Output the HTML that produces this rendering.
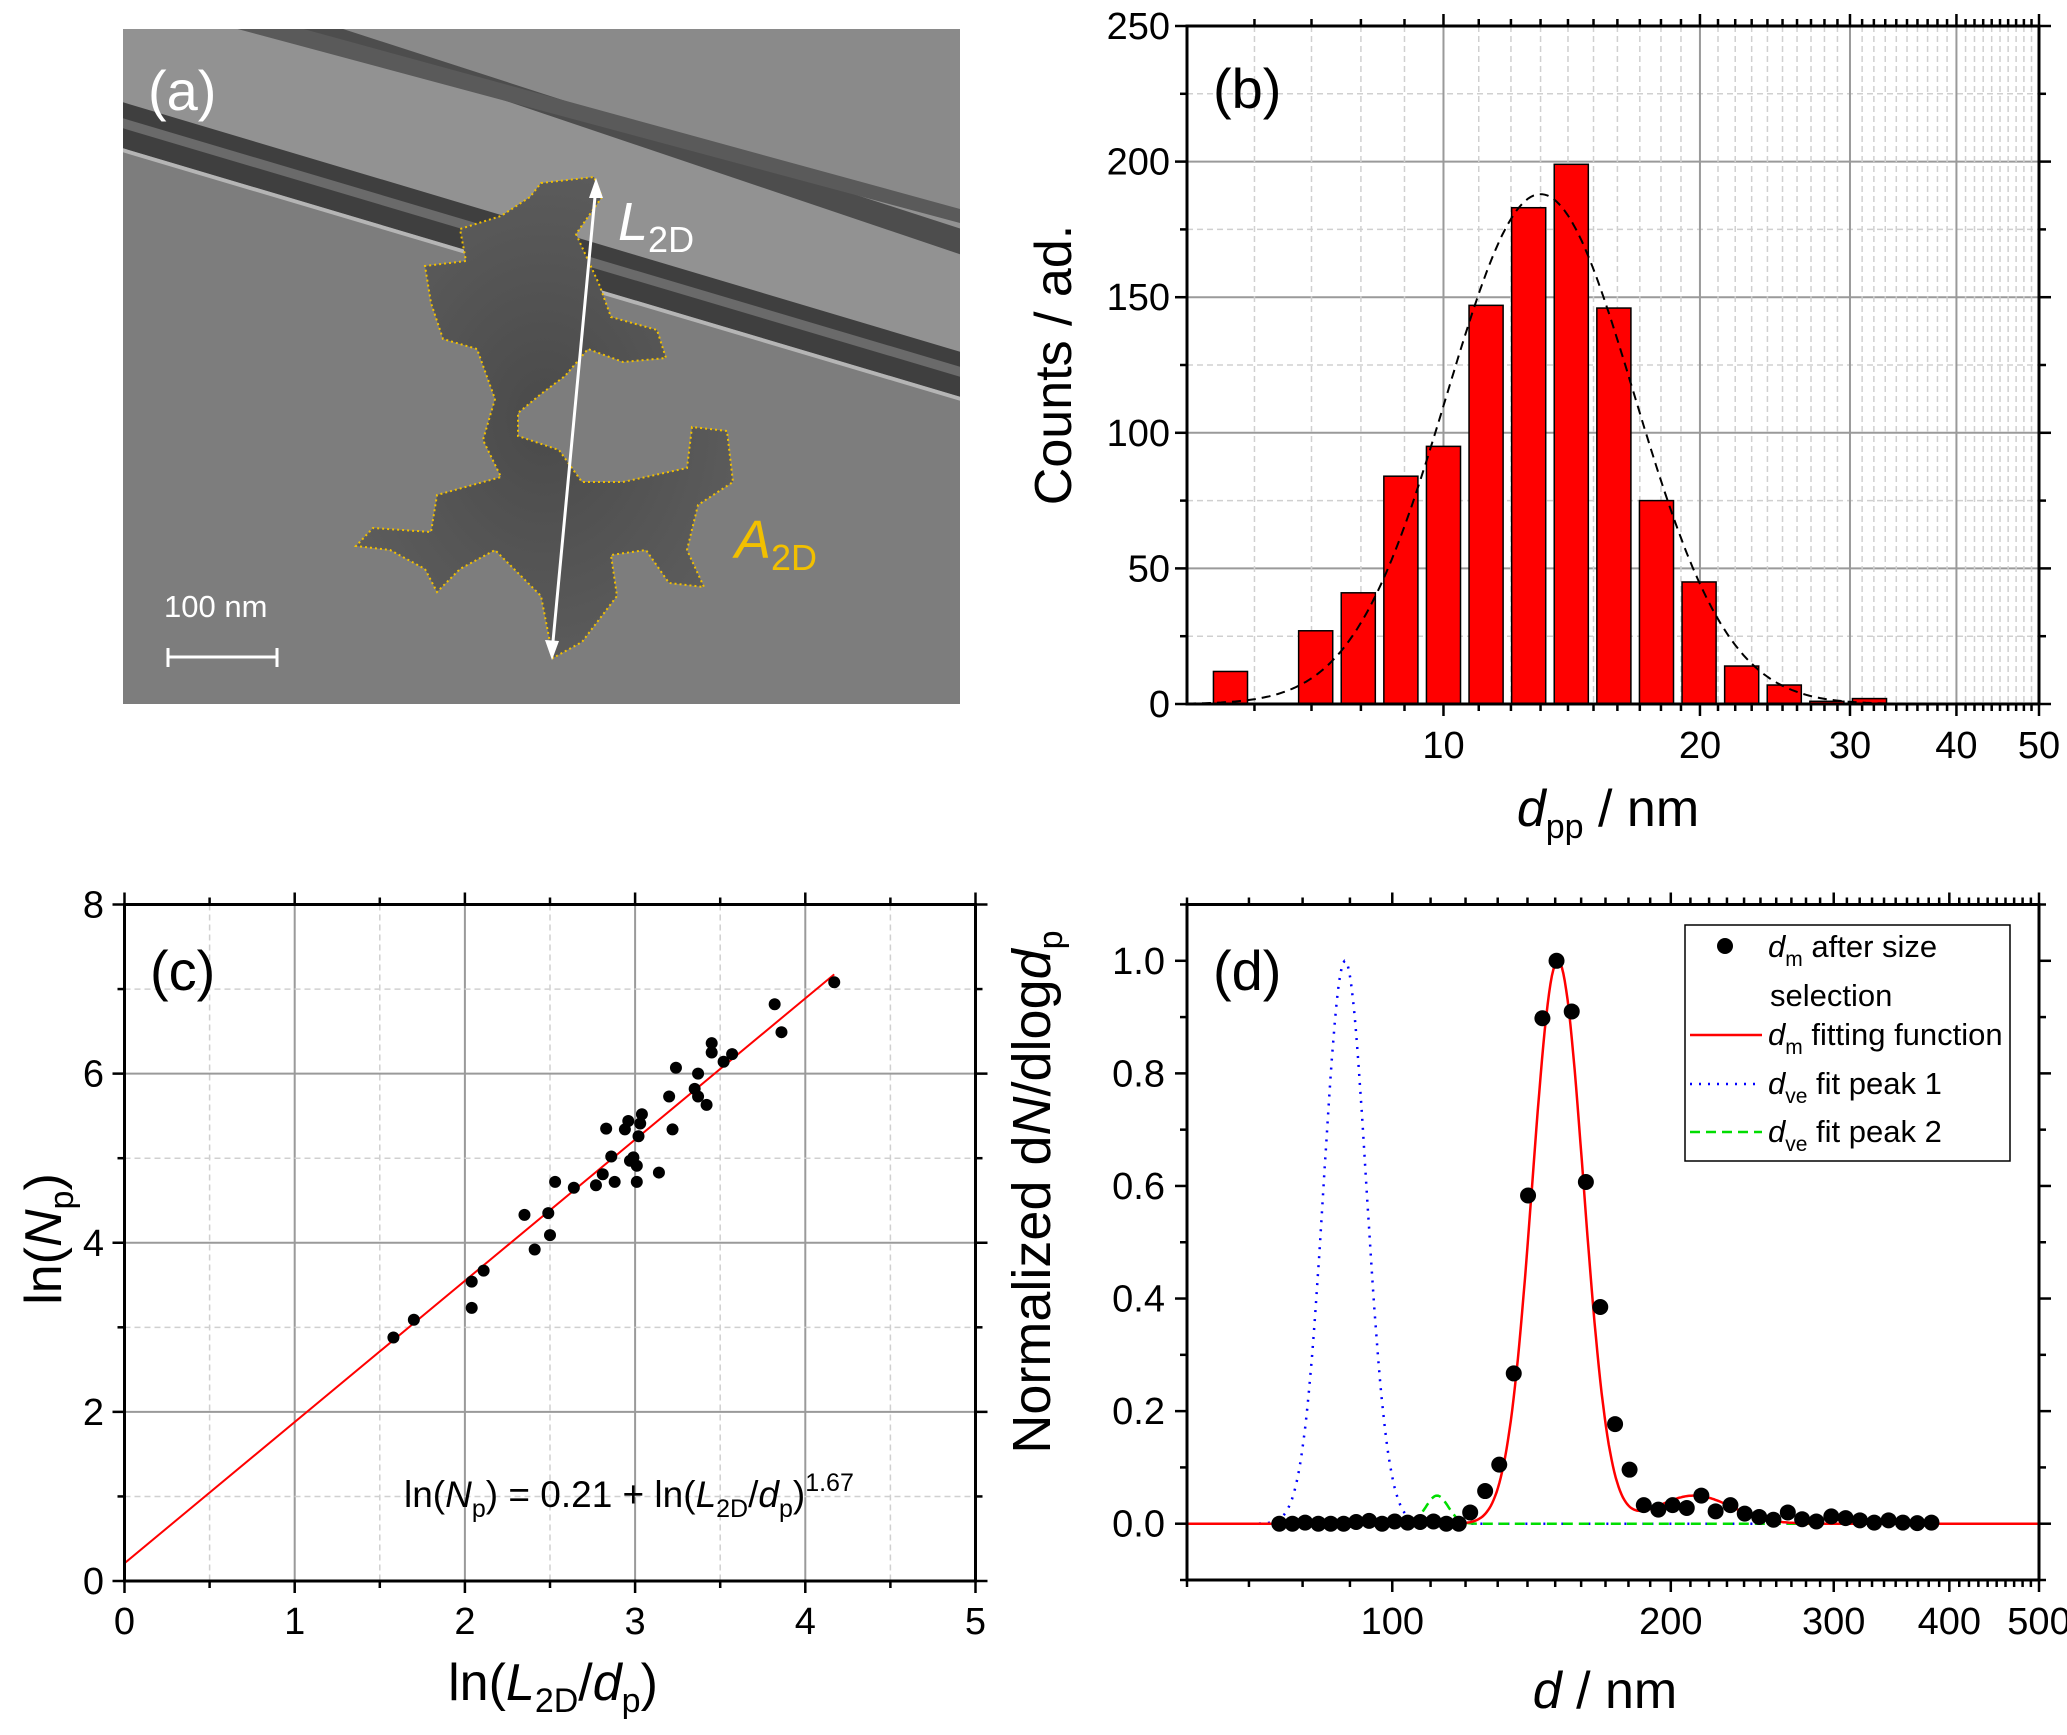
<!DOCTYPE html>
<html><head><meta charset="utf-8">
<style>
html,body{margin:0;padding:0;background:#fff;}
svg{display:block;font-family:"Liberation Sans",Arial,sans-serif;}
</style></head>
<body>
<svg id="fig" width="2067" height="1735" viewBox="0 0 2067 1735" xmlns="http://www.w3.org/2000/svg">
  <defs>
    <clipPath id="clipA"><rect x="123" y="29" width="837" height="675"/></clipPath>
    <clipPath id="clipB"><rect x="1187" y="26" width="852" height="678"/></clipPath>
    <clipPath id="clipC"><rect x="124.5" y="904.5" width="851" height="676.5"/></clipPath>
    <clipPath id="clipD"><rect x="1187" y="904.5" width="852" height="675.5"/></clipPath>
    <radialGradient id="aggGrad" cx="50%" cy="50%" r="60%">
      <stop offset="0" stop-color="#4a4a4a"/><stop offset="1" stop-color="#5e5e5e"/>
    </radialGradient>
  </defs>

  <g id="panelA" clip-path="url(#clipA)">
    <rect x="123" y="29" width="837" height="675" fill="#7d7d7d"/>
    <polygon points="234,28 971,28 971,220" fill="#8a8a8a"/>
    <polygon points="234,28 971,220 971,362 122,105 122,28" fill="#929292"/>
    <polygon points="290,28 340,28 971,232 971,258" fill="#4d4d4d"/>
    <polygon points="234,28 300,28 971,212 971,226" fill="#5a5a5a"/>
    <polygon points="122,102 971,355 971,400 122,148" fill="#3f3f3f"/>
    <polygon points="122,118 971,370 971,380 122,128" fill="#6a6a6a"/>
    <polygon points="122,148 971,400 971,404 122,152" fill="#b5b5b5"/>
    <polygon id="agg" fill="url(#aggGrad)" stroke="#f2c000" stroke-width="2" stroke-dasharray="2,3"
      points="541,183 594,177 602,197 576,234 599,284 611,317 657,330 666,358 623,362 588,349 565,376 541,394 518,413 518,436 559,450 582,482 623,482 687,468 692,427 727,431 733,482 698,505 687,550 704,587 669,583 646,550 611,555 617,596 582,642 553,658 541,596 518,573 495,550 460,569 437,592 425,569 390,550 356,546 373,528 431,532 437,495 501,477 483,440 495,399 477,349 443,339 431,303 425,266 466,261 460,229 501,216 530,197"
     />
    <line x1="596" y1="186" x2="552" y2="652" stroke="#fff" stroke-width="3"/>
    <polygon points="596,178 589,198 603,198" fill="#fff"/>
    <polygon points="552,660 545,640 559,641" fill="#fff"/>
    <text x="148" y="110" font-size="56" fill="#fff">(a)</text>
    <text x="618" y="240" font-size="54" fill="#fff" font-style="italic">L<tspan font-size="36" font-style="normal" dy="12">2D</tspan></text>
    <text x="735" y="558" font-size="54" fill="#f2c000" font-style="italic">A<tspan font-size="36" font-style="normal" dy="12">2D</tspan></text>
    <text x="164" y="617" font-size="31" fill="#fff">100 nm</text>
    <g stroke="#fff" stroke-width="3">
      <line x1="168" y1="657" x2="277" y2="657"/><line x1="168" y1="648" x2="168" y2="667"/><line x1="277" y1="648" x2="277" y2="667"/>
    </g>
  </g>

  <g id="panelB"></g>
  <g id="panelC"></g>
  <g id="panelD"></g>
</svg>

<script>
const binExponents = [-5,-4,-3,-2,-1,0,1,2,3,4,5,6,7,8,9,10];
const binCounts    = [12,0,27,41,84,95,147,183,199,146,75,45,14,7,1,2];
const fitBPeak = [188];
const fitBCenter = [13.0];
const fitBSigma = [0.11];
const bYTicks = [0,50,100,150,200,250];
const bXTicks = [10,20,30,40,50];

const cX = [1.58,1.70,2.04,2.04,2.11,2.35,2.41,2.49,2.50,2.53,2.64,2.77,2.81,2.83,2.86,2.88,2.94,2.96,2.97,2.99,3.01,3.01,3.02,3.03,3.04,3.14,3.20,3.22,3.24,3.35,3.37,3.37,3.42,3.45,3.45,3.52,3.57,3.82,3.86,4.17];
const cY = [2.88,3.09,3.54,3.23,3.67,4.33,3.92,4.35,4.09,4.72,4.65,4.68,4.81,5.35,5.02,4.72,5.34,5.44,4.97,5.01,4.72,4.91,5.26,5.41,5.52,4.83,5.73,5.34,6.07,5.82,5.73,6.00,5.63,6.36,6.25,6.14,6.23,6.82,6.49,7.08];
const cFitIntercept = [0.21];
const cFitSlope = [1.67];
const cFitRange = [0, 4.17];
const cXTicks = [0,1,2,3,4,5];
const cYTicks = [0,2,4,6,8];

const dD = [75.5,78.0,80.5,83.2,85.8,88.6,91.4,94.4,97.5,100.6,103.9,107.2,110.8,114.4,118.0,121.4,126.0,130.5,135.3,140.2,145.3,150.5,156.3,161.9,167.8,174.1,180.5,187.0,193.9,200.9,208.1,215.8,223.6,232.0,240.4,249.2,258.2,267.6,277.3,287.3,298.2,309.0,320.2,331.8,343.9,356.3,369.3,382.6];
const dN = [0.0,0.0,0.002,0.0,0.0,0.0,0.003,0.005,0.0,0.004,0.002,0.003,0.004,0.0,0.0,0.02,0.058,0.105,0.267,0.583,0.898,1.0,0.91,0.607,0.385,0.177,0.096,0.033,0.025,0.033,0.028,0.05,0.022,0.033,0.018,0.012,0.007,0.02,0.008,0.004,0.013,0.01,0.006,0.002,0.006,0.002,0.001,0.002];
const fitMainParams = [1.0,151,0.0276];
const fitBumpParams = [0.05,212,0.04];
const peak1Params = [1.0,88.9,0.0229];
const peak2Params = [0.05,111.8,0.012];
const dYTicks = [0,0.2,0.4,0.6,0.8,1.0];
const dXTicks = [100,200,300,400,500];

const NS = "http://www.w3.org/2000/svg";
function mk(parent, tag, attrs, text){
  const el = document.createElementNS(NS, tag);
  for (const k in attrs) el.setAttribute(k, attrs[k]);
  if (text !== undefined) el.textContent = text;
  parent.appendChild(el);
  return el;
}
function logScale(min,max,p0,p1){const a=Math.log10(min),b=Math.log10(max);return v=>p0+(Math.log10(v)-a)/(b-a)*(p1-p0);}
function linScale(min,max,p0,p1){return v=>p0+(v-min)/(max-min)*(p1-p0);}
function gaussLog(p,d){const z=Math.log10(d/p[1])/p[2];return p[0]*Math.exp(-0.5*z*z);}

function frame(g, L,R,T,B){
  const r = mk(g,'rect',{x:L,y:T,width:R-L,height:B-T,fill:'none',stroke:'#000','stroke-width':3});
  
  
}
function tickV(g,x,T,B,len){
  const t1=mk(g,'line',{x1:x,y1:B,x2:x,y2:B+len,stroke:'#000','stroke-width':2.5});
  
  
  const t2=mk(g,'line',{x1:x,y1:T,x2:x,y2:T-len,stroke:'#000','stroke-width':2.5});
  
  
}
function tickH(g,y,L,R,len){
  const t1=mk(g,'line',{x1:L,y1:y,x2:L-len,y2:y,stroke:'#000','stroke-width':2.5});
  
  
  const t2=mk(g,'line',{x1:R,y1:y,x2:R+len,y2:y,stroke:'#000','stroke-width':2.5});
  
  
}
function gridLine(g,x1,y1,x2,y2,major){
  const l=mk(g,'line',{x1:x1,y1:y1,x2:x2,y2:y2,stroke:major?'#9a9a9a':'#d0d0d0','stroke-width':major?2:1.5,'stroke-dasharray':major?'none':'6,4'});
  
  
}

(function(){
  const g=document.getElementById('panelB');
  const L=1187,R=2039,T=26,B=704;
  const xs=logScale(5,50,L,R), ys=linScale(0,250,B,T);
  const gg=mk(g,'g',{'clip-path':'url(#clipB)'});
  
  
  for(let v=25; v<250; v+=25) gridLine(gg,L,ys(v),R,ys(v), v%50===0);
  const minors=[];
  for(let v=6;v<10;v++) minors.push(v);
  for(let v=11;v<20;v++) minors.push(v);
  for(let v=21;v<30;v++) minors.push(v);
  for(let v=31;v<50;v++) if(v!==40) minors.push(v);
  minors.forEach(v=>gridLine(gg,xs(v),T,xs(v),B,false));
  [10,20,30,40].forEach(v=>gridLine(gg,xs(v),T,xs(v),B,true));
  binExponents.forEach((k,i)=>{
    if(binCounts[i]<=0) return;
    const lo=Math.pow(10,1+0.05*k-0.02), hi=Math.pow(10,1+0.05*k+0.02);
    const b=mk(gg,'rect',{x:xs(lo),y:ys(binCounts[i]),width:xs(hi)-xs(lo),height:ys(0)-ys(binCounts[i]),fill:'#ff0000',stroke:'#000','stroke-width':1.5});
    
    
  });
  let dpath='';
  for(let i=0;i<=300;i++){const v=Math.pow(10,Math.log10(5)+i/300*1); const y=gaussLog([fitBPeak[0],fitBCenter[0],fitBSigma[0]],v); dpath+=(i?'L':'M')+xs(v).toFixed(1)+','+ys(y).toFixed(1);}
  const fp=mk(gg,'path',{d:dpath,fill:'none',stroke:'#000','stroke-width':2,'stroke-dasharray':'9,6'});
  
  
  frame(g,L,R,T,B);
  for(let v=0; v<=250; v+=25) tickH(g,ys(v),L,R, v%50===0?12:7);
  bYTicks.forEach(v=>{
    const t=mk(g,'text',{x:1170,y:ys(v)+13,'font-size':38,'text-anchor':'end'},String(v));
    
    
  });
  minors.forEach(v=>tickV(g,xs(v),T,B,7));
  [10,20,30,40,50].forEach(v=>tickV(g,xs(v),T,B,12));
  bXTicks.forEach(v=>{
    const t=mk(g,'text',{x:xs(v),y:758,'font-size':38,'text-anchor':'middle'},String(v));
    
    
  });
  const yt=mk(g,'text',{x:0,y:0,'font-size':52,'text-anchor':'middle',transform:'translate(1071,365) rotate(-90)'},'Counts / ad.');
  
  
  const xt=mk(g,'text',{x:1608,y:826,'font-size':52,'text-anchor':'middle'});
  
  
  xt.innerHTML='<tspan font-style="italic">d</tspan><tspan font-size="34" dy="12">pp</tspan><tspan dy="-12"> / nm</tspan>';
  const pl=mk(g,'text',{x:1213,y:108,'font-size':56},'(b)');
  
  
})();

(function(){
  const g=document.getElementById('panelC');
  const L=124.5,R=975.5,T=904.5,B=1581;
  const xs=linScale(0,5,L,R), ys=linScale(0,8,B,T);
  const gg=mk(g,'g',{'clip-path':'url(#clipC)'});
  
  
  for(let v=0.5;v<5;v+=0.5) gridLine(gg,xs(v),T,xs(v),B, Math.abs(v-Math.round(v))<1e-6);
  for(let v=1;v<8;v+=1) gridLine(gg,L,ys(v),R,ys(v), v%2===0);
  const fl=mk(gg,'line',{x1:xs(cFitRange[0]),y1:ys(cFitIntercept[0]+cFitSlope[0]*cFitRange[0]),x2:xs(cFitRange[1]),y2:ys(cFitIntercept[0]+cFitSlope[0]*cFitRange[1]),stroke:'#ff0000','stroke-width':2});
  
  
  cX.forEach((x,i)=>{
    const c=mk(gg,'circle',{cx:xs(x),cy:ys(cY[i]),r:6,fill:'#000'});
    
    
  });
  frame(g,L,R,T,B);
  for(let v=0;v<=5;v+=0.5) tickV(g,xs(v),T,B, Math.abs(v-Math.round(v))<1e-6?12:7);
  for(let v=0;v<=8;v+=1) tickH(g,ys(v),L,R, v%2===0?12:7);
  cXTicks.forEach(v=>{
    const t=mk(g,'text',{x:xs(v),y:1634,'font-size':38,'text-anchor':'middle'},String(v));
    
    
  });
  cYTicks.forEach(v=>{
    const t=mk(g,'text',{x:104,y:ys(v)+13,'font-size':38,'text-anchor':'end'},String(v));
    
    
  });
  const eq=mk(g,'text',{x:404,y:1507,'font-size':37});
  
  
  eq.innerHTML='ln(<tspan font-style="italic">N</tspan><tspan font-size="25" dy="10">p</tspan><tspan dy="-10">) = 0.21 + ln(</tspan><tspan font-style="italic">L</tspan><tspan font-size="25" dy="10">2D</tspan><tspan dy="-10">/</tspan><tspan font-style="italic">d</tspan><tspan font-size="25" dy="10">p</tspan><tspan dy="-10">)</tspan><tspan font-size="25" dy="-16">1.67</tspan>';
  const yt=mk(g,'text',{x:0,y:0,'font-size':52,'text-anchor':'middle',transform:'translate(61,1239) rotate(-90)'});
  
  
  yt.innerHTML='ln(<tspan font-style="italic">N</tspan><tspan font-size="34" dy="12">p</tspan><tspan dy="-12">)</tspan>';
  const xt=mk(g,'text',{x:553,y:1700,'font-size':52,'text-anchor':'middle'});
  
  
  xt.innerHTML='ln(<tspan font-style="italic">L</tspan><tspan font-size="34" dy="12">2D</tspan><tspan dy="-12">/</tspan><tspan font-style="italic">d</tspan><tspan font-size="34" dy="12">p</tspan><tspan dy="-12">)</tspan>';
  const pl=mk(g,'text',{x:150,y:990,'font-size':56},'(c)');
  
  
})();

(function(){
  const g=document.getElementById('panelD');
  const L=1187,R=2039,T=904.5,B=1580;
  const xs=logScale(60,500,L,R), ys=linScale(-0.1,1.1,B,T);
  const gg=mk(g,'g',{'clip-path':'url(#clipD)'});
  
  
  function curve(fn,name,color,dash,w){
    let d='';
    for(let i=0;i<=600;i++){const v=60*Math.pow(500/60,i/600); d+=(i?'L':'M')+xs(v).toFixed(1)+','+ys(fn(v)).toFixed(1);}
    const p=mk(gg,'path',{d:d,fill:'none',stroke:color,'stroke-width':w,'stroke-dasharray':dash});
    
    
  }
  curve(v=>gaussLog(peak1Params,v),'dve-fit-peak-1','#0000ff','2,7',2.5);
  curve(v=>gaussLog(peak2Params,v),'dve-fit-peak-2','#00dd00','10,6',2.5);
  curve(v=>gaussLog(fitMainParams,v)+gaussLog(fitBumpParams,v),'dm-fitting-function','#ff0000','none',2.5);
  dD.forEach((d,i)=>{
    const c=mk(gg,'circle',{cx:xs(d),cy:ys(dN[i]),r:8,fill:'#000'});
    
    
  });
  frame(g,L,R,T,B);
  for(let v=60; v<=500; v+=10){ tickV(g,xs(v),T,B, v%100===0?12:7); }
  for(let k=-1;k<=11;k++) tickH(g,ys(k/10),L,R, k%2===0?12:7);
  dXTicks.forEach(v=>{
    const t=mk(g,'text',{x:xs(v),y:1634,'font-size':38,'text-anchor':'middle'},String(v));
    
    
  });
  dYTicks.forEach(v=>{
    const t=mk(g,'text',{x:1165,y:ys(v)+13,'font-size':38,'text-anchor':'end'},v.toFixed(1));
    
    
  });
  const lg=mk(g,'g',{});
  
  
  const lb=mk(lg,'rect',{x:1685,y:925,width:325,height:236,fill:'#fff',stroke:'#000','stroke-width':1.5});
  
  
  const ld=mk(lg,'circle',{cx:1725,cy:946,r:8,fill:'#000'});
  
  
  const t1=mk(lg,'text',{x:1768,y:957,'font-size':31});
  
  
  t1.innerHTML='<tspan font-style="italic">d</tspan><tspan font-size="21" dy="9">m</tspan><tspan dy="-9"> after size</tspan>';
  const t1b=mk(lg,'text',{x:1770,y:1006,'font-size':31},'selection');
  
  
  const rows=[[1035,'#ff0000','none','m',' fitting function','legend-entry-fit'],[1084,'#0000ff','2,7','ve',' fit peak 1','legend-entry-peak-1'],[1132,'#00dd00','10,6','ve',' fit peak 2','legend-entry-peak-2']];
  rows.forEach(r=>{
    const l=mk(lg,'line',{x1:1690,y1:r[0],x2:1762,y2:r[0],stroke:r[1],'stroke-width':2.5,'stroke-dasharray':r[2]});
    
    
    const t=mk(lg,'text',{x:1768,y:r[0]+10,'font-size':31});
    
    
    t.innerHTML='<tspan font-style="italic">d</tspan><tspan font-size="21" dy="9">'+r[3]+'</tspan><tspan dy="-9">'+r[4]+'</tspan>';
  });
  const yt=mk(g,'text',{x:0,y:0,'font-size':54,'text-anchor':'middle',transform:'translate(1050,1192) rotate(-90)'});
  
  
  yt.innerHTML='Normalized d<tspan font-style="italic">N</tspan>/dlog<tspan font-style="italic">d</tspan><tspan font-size="34" dy="12">p</tspan>';
  const xt=mk(g,'text',{x:1605,y:1708,'font-size':52,'text-anchor':'middle'});
  
  
  xt.innerHTML='<tspan font-style="italic">d</tspan> / nm';
  const pl=mk(g,'text',{x:1213,y:990,'font-size':56},'(d)');
  
  
})();
</script>
</body></html>
